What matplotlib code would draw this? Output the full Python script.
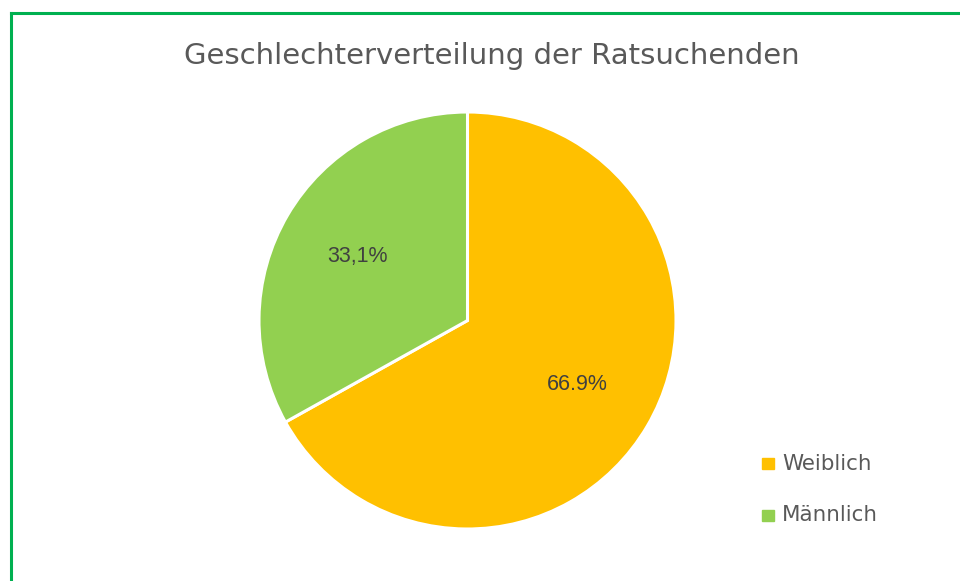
import matplotlib.pyplot as plt
from matplotlib.patches import Rectangle
from matplotlib.lines import Line2D

# Daten
kategorien = ['Weiblich', 'Männlich']
anteile = [66.9, 33.1]
beschriftung = ['66.9%', '33,1%']   # wie im Original (gemischte Dezimalzeichen)
farben = ['#FFC000', '#92D050']

plt.rcParams['font.family'] = ['DejaVu Sans']

fig = plt.figure(figsize=(9.6, 5.81), dpi=100)
W, H = 960, 581

# gruener Rahmen (nur links und oben sichtbar)
fig.add_artist(Line2D([11/W, 11/W], [0, 1 - 13/H], color='#00B050', lw=2.2,
                      transform=fig.transFigure))
fig.add_artist(Line2D([11/W, 1], [1 - 13/H, 1 - 13/H], color='#00B050', lw=2.2,
                      transform=fig.transFigure))

fig.text(491.5/W, 1 - 56/H, 'Geschlechterverteilung der Ratsuchenden',
         ha='center', va='center', fontsize=21, color='#595959')

# Kreisdiagramm
cx, cy, r = 467.5, 320.5, 208.5
ax = fig.add_axes([(cx - r)/W, 1 - (cy + r)/H, 2*r/W, 2*r/H])
zaehler = iter(beschriftung)
wedges, _, autotexts = ax.pie(anteile, colors=farben, startangle=90, counterclock=False,
                              autopct=lambda p: next(zaehler), pctdistance=0.61,
                              wedgeprops=dict(edgecolor='white', linewidth=2.2),
                              textprops=dict(fontsize=15.5, color='#404040',
                                             family='Liberation Sans'))
ax.set_aspect('equal')
ax.set_xlim(-1, 1)
ax.set_ylim(-1, 1)

# Legende
leg_y = [463.5, 515]
for name, farbe, y in zip(kategorien, farben, leg_y):
    fig.add_artist(Rectangle((762/W, 1 - y/H - 5.5/H), 11.5/W, 11/H,
                             color=farbe, transform=fig.transFigure))
    fig.text(782/W, 1 - y/H, name, ha='left', va='center', fontsize=15.4, color='#595959')

fig.savefig('out.png', dpi=100)
